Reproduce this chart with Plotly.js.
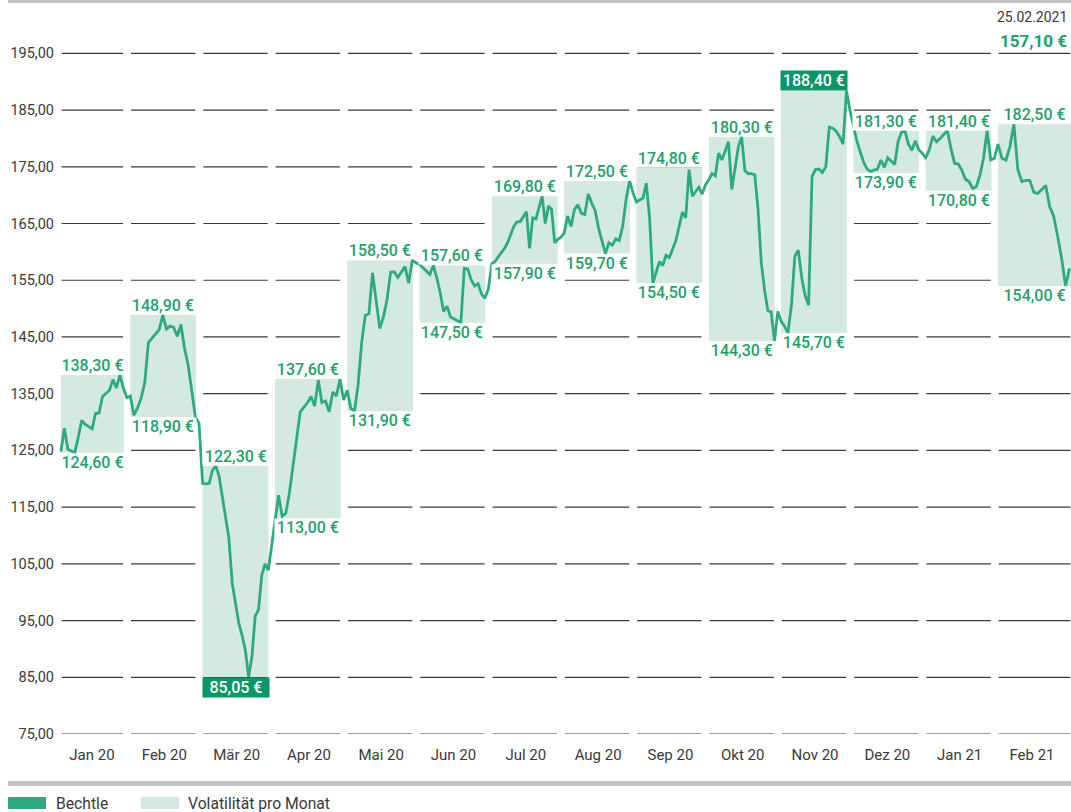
<!DOCTYPE html>
<html>
<head>
<meta charset="utf-8">
<script src="https://cdn.plot.ly/plotly-3.0.1.min.js"></script>
<style>
  html, body { margin: 0; padding: 0; background: #ffffff; }
  #chart { width: 1071px; height: 812px; }
</style>
</head>
<body>
<div id="chart"></div>
<script>
// ---------- DATA ----------
const months = ['Jan 20','Feb 20','Mär 20','Apr 20','Mai 20','Jun 20','Jul 20','Aug 20','Sep 20','Okt 20','Nov 20','Dez 20','Jan 21','Feb 21'];

const monthHigh = [138.3, 148.9, 122.3, 137.6, 158.5, 157.6, 169.8, 172.5, 174.8, 180.3, 188.4, 181.3, 181.4, 182.5];
const monthLow  = [124.6, 130.9, 85.05, 113.0, 131.9, 147.5, 157.9, 159.7, 154.5, 144.3, 145.7, 173.9, 170.8, 154.0];
const highText  = ['138,30 €','148,90 €','122,30 €','137,60 €','158,50 €','157,60 €','169,80 €','172,50 €','174,80 €','180,30 €','188,40 €','181,30 €','181,40 €','182,50 €'];
const lowText   = ['124,60 €','118,90 €','85,05 €','113,00 €','131,90 €','147,50 €','157,90 €','159,70 €','154,50 €','144,30 €','145,70 €','173,90 €','170,80 €','154,00 €'];

// daily closing prices (EUR), one array per month
const p_jan20 = [124.8,128.9,125.2,124.9,124.6,127.3,130.3,129.6,129.2,128.8,131.5,131.6,134.5,135.1,135.6,137.5,136.0,138.3,136.0,134.3];
const p_feb20 = [134.6,131.2,132.5,134.2,137.0,144.0,144.8,145.5,146.3,148.9,146.4,146.9,146.7,145.1,147.2,143.0,140.0,135.5,130.9,129.8];
const p_mar20 = [119.2,119.1,119.2,121.5,122.3,120.5,117.0,113.5,109.5,101.6,97.8,94.6,92.4,89.8,85.05,88.6,95.8,96.9,103.0,105.0,103.9,108.5];
const p_apr20 = [113.0,117.1,113.4,113.9,117.5,122.5,127.5,131.8,132.6,133.4,134.5,132.8,137.4,133.4,133.7,131.8,135.3,134.6,137.6,133.9];
const p_may20 = [135.6,132.4,131.9,136.5,144.0,148.8,149.1,156.3,151.4,146.5,148.5,151.5,156.4,156.5,155.5,156.5,157.4,154.5,158.5,158.1];
const p_jun20 = [157.8,157.2,156.5,156.0,157.6,155.5,152.8,149.5,150.4,148.5,148.2,147.9,147.5,157.1,157.0,155.1,154.0,154.4,152.6,151.8,153.5];
const p_jul20 = [157.9,158.3,159.1,159.8,160.6,161.6,163.0,164.5,165.3,165.3,166.2,167.1,160.6,166.0,165.8,167.6,169.8,165.0,168.1,167.5,161.6,162.2,162.6];
const p_aug20 = [163.3,166.3,164.5,167.5,168.3,166.8,166.6,170.2,168.6,167.3,164.2,162.0,159.7,161.6,161.2,162.3,162.0,164.5,169.3,172.5,170.4];
const p_sep20 = [168.8,169.1,169.5,172.1,166.0,154.5,156.5,158.3,157.6,159.4,159.0,160.4,162.0,164.5,167.0,166.0,174.5,169.8,170.5,171.4,170.2,171.8];
const p_oct20 = [172.7,173.8,173.4,177.4,176.2,177.8,179.4,171.0,174.5,178.5,180.3,174.3,173.8,173.8,173.6,167.5,158.0,153.2,149.6,149.4,144.3,149.5];
const p_nov20 = [147.8,146.9,145.7,150.5,159.2,160.3,155.5,152.3,150.6,173.3,174.5,174.6,174.0,175.0,182.0,181.8,181.3,180.3,179.0,188.4,185.0];
const p_dec20 = [182.0,179.6,177.6,175.8,174.6,174.2,174.4,174.6,176.2,174.9,176.6,176.0,175.4,179.5,181.1,181.3,179.0,177.9,179.6,178.0,177.4];
const p_jan21 = [176.6,178.0,180.4,179.4,180.0,180.7,181.4,178.2,175.6,175.5,174.4,172.8,172.4,171.2,171.5,173.5,176.5,181.4,176.2,176.5];
const p_feb21 = [179.0,176.5,176.2,178.5,182.5,174.5,172.4,172.6,172.6,170.5,170.3,171.0,171.7,168.0,166.3,162.8,158.9,154.0,157.1];

const yTicks = [75, 85, 95, 105, 115, 125, 135, 145, 155, 165, 175, 185, 195];
const lastDate = '25.02.2021';
const lastPrice = '157,10 €';
const legendNames = ['Bechtle', 'Volatilität pro Monat'];

// ---------- STYLE ----------
const series = [p_jan20,p_feb20,p_mar20,p_apr20,p_may20,p_jun20,p_jul20,p_aug20,p_sep20,p_oct20,p_nov20,p_dec20,p_jan21,p_feb21];
const LINE = '#2eaa81';
const BOX = '#d4e9df';
const DARK = '#08966a';
const TXTGREEN = '#1fa06e';
const GREY = '#3a3a3a';
const FONT = 'Roboto, "Open Sans", sans-serif';
const X_MIN = -0.47, X_MAX = 13.54;
const nM = months.length;

const colStart = i => (i === 0 ? -0.43 : i - 0.47);
const colEnd = i => (i === nM - 1 ? X_MAX : i + 0.44);

// build line coordinates from monthly arrays
const X = [], Y = [];
series.forEach((arr, i) => {
  const s = colStart(i);
  const last = i === nM - 1;
  const e = last ? i + 0.52 : i + 0.53;
  const step = last ? (e - s) / (arr.length - 1) : (e - s) / arr.length;
  arr.forEach((v, k) => { X.push(s + k * step); Y.push(v); });
});

const shapes = [];
// segmented grid lines
yTicks.forEach(t => {
  for (let i = 0; i < nM; i++) {
    shapes.push({type:'line', layer:'below', xref:'x', yref:'y',
      x0: colStart(i) + 0.01, x1: colEnd(i) - 0.01, y0: t, y1: t,
      line:{color: GREY, width: 1.2}});
  }
});
// volatility boxes
for (let i = 0; i < nM; i++) {
  shapes.push({type:'rect', layer:'below', xref:'x', yref:'y',
    x0: colStart(i), x1: colEnd(i), y0: monthLow[i], y1: monthHigh[i],
    fillcolor: BOX, line:{width:0}});
}
// top and bottom grey rules, legend swatches (paper coords)
const plotW = 1071 - 58, plotH = 734 - 25;
const px = v => (v - 58) / plotW;
const py = v => (734 - v) / plotH;
shapes.push({type:'rect', xref:'paper', yref:'paper', x0: px(8), x1: px(1071), y0: py(0), y1: py(3), fillcolor:'#c4c4c6', line:{width:0}});
shapes.push({type:'rect', xref:'paper', yref:'paper', x0: px(8), x1: px(1071), y0: py(781), y1: py(786), fillcolor:'#c4c4c6', line:{width:0}});
shapes.push({type:'rect', xref:'paper', yref:'paper', x0: px(8), x1: px(46), y0: py(797), y1: py(809), fillcolor: LINE, line:{width:0}});
shapes.push({type:'rect', xref:'paper', yref:'paper', x0: px(141), x1: px(179), y0: py(797), y1: py(809), fillcolor: BOX, line:{width:0}});

const annotations = [];
const maxHigh = Math.max(...monthHigh);
const minLow = Math.min(...monthLow);
const colPx = (a, b) => (b - a) * plotW / (X_MAX - X_MIN);
for (let i = 0; i < nM; i++) {
  const isMax = monthHigh[i] === maxHigh;
  const isMin = monthLow[i] === minLow;
  const cx = (colStart(i) + colEnd(i)) / 2;
  const w = colPx(colStart(i), colEnd(i));
  const mk = (val, text, dark, anchor) => Object.assign({
    x: cx, y: val, xref:'x', yref:'y',
    text: text, showarrow:false, yanchor: anchor, xanchor:'center',
    borderpad: 0, align:'center'
  }, dark ? {
    bgcolor: DARK, width: w, height: 19, yshift: 0,
    font:{family: FONT, size: 16, color:'#ffffff', weight: 500}
  } : {
    bgcolor:'#ffffff', width: w, height: 17, yshift: 0,
    font:{family: FONT, size: 16, color: TXTGREEN, weight: 500}
  });
  annotations.push(mk(monthHigh[i], highText[i], isMax, 'bottom'));
  annotations.push(mk(monthLow[i], lowText[i], isMin, 'top'));
}
// header (last date / last price)
annotations.push({xref:'paper', yref:'paper', x: px(1069), y: py(17), xanchor:'right', yanchor:'middle',
  text: lastDate, showarrow:false, font:{family: FONT, size: 14, color: GREY}});
annotations.push({xref:'paper', yref:'paper', x: px(1069), y: py(41), xanchor:'right', yanchor:'middle',
  text: lastPrice, showarrow:false, font:{family: FONT, size: 17, color: TXTGREEN, weight: 700}});
// legend texts
annotations.push({xref:'paper', yref:'paper', x: px(54), y: py(803), xanchor:'left', yanchor:'middle',
  text: legendNames[0], showarrow:false, font:{family: FONT, size: 15.7, color: GREY}});
annotations.push({xref:'paper', yref:'paper', x: px(186), y: py(803), xanchor:'left', yanchor:'middle',
  text: legendNames[1], showarrow:false, font:{family: FONT, size: 15.7, color: GREY}});

const trace = {
  x: X, y: Y, type:'scatter', mode:'lines', name: legendNames[0],
  line:{color: LINE, width: 2.8}, hoverinfo:'skip', cliponaxis: false
};

const layout = {
  width: 1071, height: 812,
  margin:{l: 58, r: 0, t: 25, b: 78, pad: 0},
  paper_bgcolor:'#ffffff', plot_bgcolor:'rgba(0,0,0,0)',
  showlegend:false,
  xaxis:{range:[X_MIN, X_MAX], showgrid:false, zeroline:false, showline:false,
    tickmode:'array', tickvals: months.map((m, i) => i), ticktext: months,
    ticks:'', ticklabelstandoff: 10, fixedrange:true,
    tickfont:{family: FONT, size: 15, color: GREY}},
  yaxis:{range:[75, 200], showgrid:false, zeroline:false, showline:false,
    tickmode:'array', tickvals: yTicks, ticktext: yTicks.map(v => v.toFixed(2).replace('.', ',')),
    ticks:'', ticklabelstandoff: 3, fixedrange:true,
    tickfont:{family: FONT, size: 14.5, color: GREY}},
  shapes: shapes,
  annotations: annotations
};

Plotly.newPlot('chart', [trace], layout, {displayModeBar:false, staticPlot:true});
</script>
</body>
</html>
